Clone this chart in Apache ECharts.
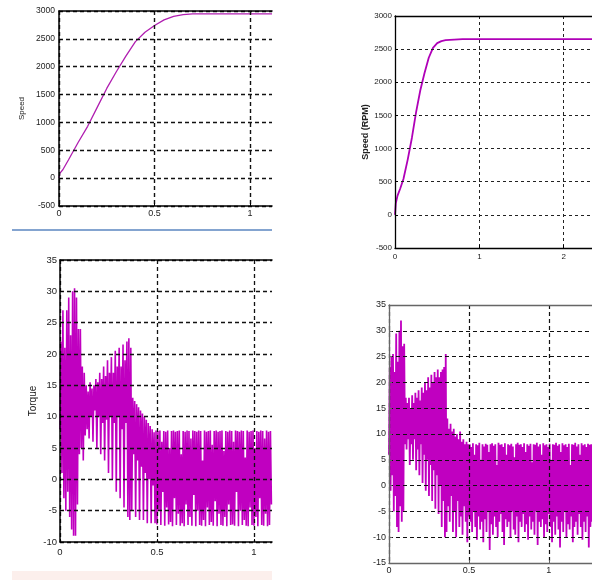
<!DOCTYPE html>
<html><head><meta charset="utf-8">
<script src="https://cdn.jsdelivr.net/npm/echarts@6/dist/echarts.min.js"></script>
<style>html,body{margin:0;padding:0;background:#fff}#c{width:592px;height:580px}</style>
</head><body><div id="c"></div>
<script>
// ---- Data ----
const speed1Time = [0, 0.005, 0.02, 0.05, 0.1, 0.15, 0.2, 0.25, 0.3, 0.35, 0.4, 0.45, 0.5, 0.55, 0.6, 0.65, 0.7, 0.8, 0.9, 1.0, 1.115];
const speed1Rpm  = [0, 90, 150, 330, 640, 930, 1270, 1610, 1910, 2190, 2450, 2620, 2740, 2840, 2905, 2935, 2950, 2950, 2950, 2950, 2950];

const speed2Time = [0, 0.01, 0.03, 0.06, 0.1, 0.15, 0.2, 0.25, 0.3, 0.35, 0.4, 0.45, 0.5, 0.55, 0.6, 0.7, 0.8, 1.0, 1.5, 2.0, 2.335];
const speed2Rpm  = [0, 180, 290, 390, 540, 830, 1160, 1550, 1880, 2140, 2370, 2520, 2590, 2620, 2635, 2645, 2650, 2650, 2650, 2650, 2650];

const torqueStep = 0.005; // sample period (s)

const torque1Start = [8, 22, 1, 27, -3, 21, -5, 27, -2, 29, -6, 23, -8, 30, -9, 30.5, -9, 29, -4, 24, 4, 24, 5, 18, 3, 17, 7];
const torque1Rise = [15, 8, 14, 6.5, 15.5, 10, 14.5, 6, 15, 11, 16, 5, 15.5, 10, 17, 4, 16, 9, 18, 3,
  16.5, 9.5, 19, 1, 17, 10, 19.5, 0, 17, 9, 20.5, -2, 18, 10, 21, -3, 18, 8, 21.5, -4.5,
  19, 9, 22, -6, 22.5, -6.5, 21];
const torque1Decay = [-5, 13, 4, 12.5, -6, 12, 3, 11.5, -6.5, 11, 2, 10.5, -6.5, 10, 1, 9.5, -7, 9, 0, 8.5,
  -7, 8, -1, 7.5, -7, 7.8, -7.2];
const torque1Steady = [
  7.7,-5, 7.8,-7.3, 6,-2, 7.7,-7.4, 7.6,-4.5, 7.8,-7.2, 5,-6.8, 7.7,-7.5, 7.8,-3, 7.6,-7.3,
  7.7,-5.5, 7.8,-7.4, 4,-7, 7.7,-7.5, 7.6,-4, 7.8,-7.3, 7.7,-6, 6.5,-7.4, 7.8,-2.5, 7.7,-7.5,
  7.6,-5, 7.8,-7.3, 7.7,-7.4, 3,-6.5, 7.8,-7.5, 7.6,-4.5, 7.7,-7.3, 7.8,-6.8, 5.5,-7.4, 7.7,-3.5,
  7.8,-7.5, 7.6,-5.5, 7.7,-7.3, 7.8,-7.4, 4.5,-6, 7.7,-7.5, 7.6,-4, 7.8,-7.3, 7.7,-7.2, 6,-7.4,
  7.8,-2, 7.7,-7.5, 7.6,-5, 7.8,-7.3, 7.7,-6.5, 3.5,-7.4, 7.8,-7.5, 7.6,-4.5, 7.7,-7.3, 7.8,-7.4,
  5,-6, 7.7,-7.5, 7.6,-3, 7.8,-7.3, 7.7,-7.4, 6.5,-5.5, 7.8,-7.5, 7.6,-7.3, 7.7,-4];

const torque2Start = [6, 23, -1, 25, 2, 25.5, -5, 22, -2, 29.5, -8, 24, -9, 30, -4, 32, -7, 27, -5, 27.5, 8, 17];
const torque2Rise = [7, 16, 9, 17, 4, 15, 8, 17.5, 5, 16, 9, 18, 3, 17, 7, 18.5, 2, 16.5, 8, 19,
  0.5, 18, 6, 20, -1, 18.5, 5, 21, -2, 19, 4, 21.5, -3, 20, 3, 22, -4.5, 21, 2, 22.5,
  -5.5, 21, 0, 22, -8, 22.5, -3, 23, -10, 25.5];
const torque2Decay = [-9, 13, -4, 11, -7, 12, -2, 10.5, -9, 11, -5, 9.5, -10, 10, -3, 9, -8, 10.5, -6, 8.5,
  -9.5, 9, -4, 8, -7, 8.5, -11, 8, -6];
const torque2Steady = [
  8,-7, 7.5,-9, 8.2,-5, 6,-8, 8,-10.5, 7.8,-6, 8.3,-8.5, 5,-7, 8,-11, 7.6,-6.5,
  8.1,-9, 7.9,-5, 6.5,-12.5, 8,-7.5, 8.2,-9.5, 7.7,-6, 8,-8, 4,-10, 8.3,-7, 7.9,-5.5,
  8,-9, 7.5,-11.5, 8.2,-6.5, 6,-8, 8,-7, 7.8,-10, 8.1,-5, 7.6,-8.5, 5.5,-9.5, 8,-6,
  8.3,-11, 7.9,-7, 8,-8, 7.5,-5.5, 8.2,-9, 6.5,-7.5, 8,-10.5, 7.7,-6, 8.1,-8.5, 4.5,-7,
  8,-9.5, 7.9,-5, 8.3,-11.5, 7.6,-7, 8,-8, 6,-6.5, 8.2,-10, 7.8,-7.5, 8,-9, 7.5,-5.5,
  8.1,-8, 5,-11, 8,-7, 7.9,-9.5, 8.3,-6, 7.7,-8.5, 8,-12, 6.5,-7, 8.2,-9, 7.8,-5,
  8,-10, 7.5,-7.5, 8.1,-8.5, 4,-6, 8,-11, 7.9,-8, 8.3,-7, 7.6,-9.5, 8,-5.5, 6,-8,
  8.2,-10.5, 7.8,-7, 8,-9, 7.5,-6, 8.1,-12, 7.9,-8, 8,-7];

const xTicksTL = [0, 0.5, 1];
const xTicksTR = [0, 1, 2];
const xTicksBL = [0, 0.5, 1];
const xTicksBR = [0, 0.5, 1];

// ---- Build series data ----
const pairs = (xs, ys) => xs.map((x, i) => [x, ys[i]]);
const sampled = arr => arr.map((v, i) => [+(i * torqueStep).toFixed(4), v]);
const torque1 = torque1Start.concat(torque1Rise, torque1Decay, torque1Steady);
const torque2 = torque2Start.concat(torque2Rise, torque2Decay, torque2Steady);

const FONT = 'Liberation Sans, Arial, sans-serif';
const MAG = '#c000c0';

function xMain(g, max, ticks, o) {
  return {
    type: 'value', gridIndex: g, min: 0, max: max, z: 3,
    axisLine: { show: true, onZero: false, lineStyle: { color: o.axis, width: o.aw } },
    axisTick: { show: true, inside: true, length: 3, customValues: ticks, lineStyle: { color: o.axis } },
    axisLabel: { customValues: ticks, fontSize: o.xf, color: '#222', margin: o.xm, fontFamily: FONT,
      formatter: v => String(v) },
    splitLine: { show: true, lineStyle: { type: o.dash, color: o.grid, width: o.gw } }
  };
}
function xTop(g, max, o) {
  return {
    type: 'value', gridIndex: g, position: 'top', min: 0, max: max, z: 3,
    axisLine: { show: true, onZero: false, lineStyle: { color: o.axis, width: o.aw } },
    axisTick: { show: false }, axisLabel: { show: false }, splitLine: { show: false }
  };
}
function yMain(g, min, max, iv, o) {
  return {
    type: 'value', gridIndex: g, min: min, max: max, interval: iv, z: 3,
    name: o.name || '', nameLocation: 'middle', nameRotate: 90, nameGap: o.ng || 20,
    nameTextStyle: { fontSize: o.nf || 8, color: '#222', fontFamily: FONT, fontWeight: o.nw || 'normal' },
    axisLine: { show: true, onZero: false, lineStyle: { color: o.axis, width: o.aw } },
    axisTick: { show: true, inside: true, length: 3, lineStyle: { color: o.axis } },
    axisLabel: { fontSize: o.yf, color: '#222', margin: o.ym, fontFamily: FONT, formatter: v => String(v) },
    splitLine: { show: true, lineStyle: { type: o.dash, color: o.grid, width: o.gw } }
  };
}

const oTL = { axis: '#000', aw: 1.5, xf: 9, xm: 3, yf: 8.5, ym: 4, dash: [4, 3], grid: '#111', gw: 1.4,
  name: 'Speed', ng: 33, nf: 8 };
const oTR = { axis: '#000', aw: 1.3, xf: 8, xm: 5, yf: 8, ym: 3, dash: [3, 3], grid: '#222', gw: 1,
  name: 'Speed (RPM)', ng: 24, nf: 9, nw: 'bold' };
const oBL = { axis: '#000', aw: 1.5, xf: 9.5, xm: 5, yf: 9.5, ym: 3, dash: [4, 3], grid: '#111', gw: 1.3,
  name: 'Torque', ng: 22, nf: 10 };
const oBR = { axis: '#666', aw: 1.3, xf: 9, xm: 3, yf: 9, ym: 3, dash: [4, 3], grid: '#111', gw: 1.2 };

const chart = echarts.init(document.getElementById('c'), null, { renderer: 'canvas' });
chart.setOption({
  backgroundColor: '#fff',
  animation: false,
  grid: [
    { left: 59, top: 11, width: 213, height: 195 },
    { left: 395, top: 16, width: 197, height: 232 },
    { left: 60, top: 260, width: 212, height: 282 },
    { left: 389, top: 305, width: 203, height: 258 }
  ],
  xAxis: [
    xMain(0, 1.115, xTicksTL, oTL), xTop(0, 1.115, oTL),
    xMain(1, 2.335, xTicksTR, oTR), xTop(1, 2.335, oTR),
    xMain(2, 1.093, xTicksBL, oBL), xTop(2, 1.093, oBL),
    xMain(3, 1.27, xTicksBR, oBR), xTop(3, 1.27, oBR)
  ],
  yAxis: [
    yMain(0, -500, 3000, 500, oTL),
    yMain(1, -500, 3000, 500, oTR),
    yMain(2, -10, 35, 5, oBL),
    yMain(3, -15, 35, 5, oBR)
  ],
  graphic: [
    { type: 'line', shape: { x1: 12, y1: 230, x2: 272, y2: 230 }, style: { stroke: '#5b86c0', lineWidth: 1.5 } },
    { type: 'rect', shape: { x: 12, y: 571, width: 260, height: 9 }, style: { fill: '#fcefec' } }
  ],
  series: [
    { type: 'line', xAxisIndex: 0, yAxisIndex: 0, data: pairs(speed1Time, speed1Rpm), showSymbol: false,
      lineStyle: { color: '#b01eb0', width: 1.3 }, z: 2 },
    { type: 'line', xAxisIndex: 2, yAxisIndex: 1, data: pairs(speed2Time, speed2Rpm), showSymbol: false,
      lineStyle: { color: '#b000b8', width: 1.8 }, z: 2 },
    { type: 'line', xAxisIndex: 4, yAxisIndex: 2, data: sampled(torque1), showSymbol: false,
      lineStyle: { color: MAG, width: 1.6 }, z: 2 },
    { type: 'line', xAxisIndex: 6, yAxisIndex: 3, data: sampled(torque2), showSymbol: false,
      lineStyle: { color: MAG, width: 1.8 }, z: 2 }
  ]
});
</script></body></html>
